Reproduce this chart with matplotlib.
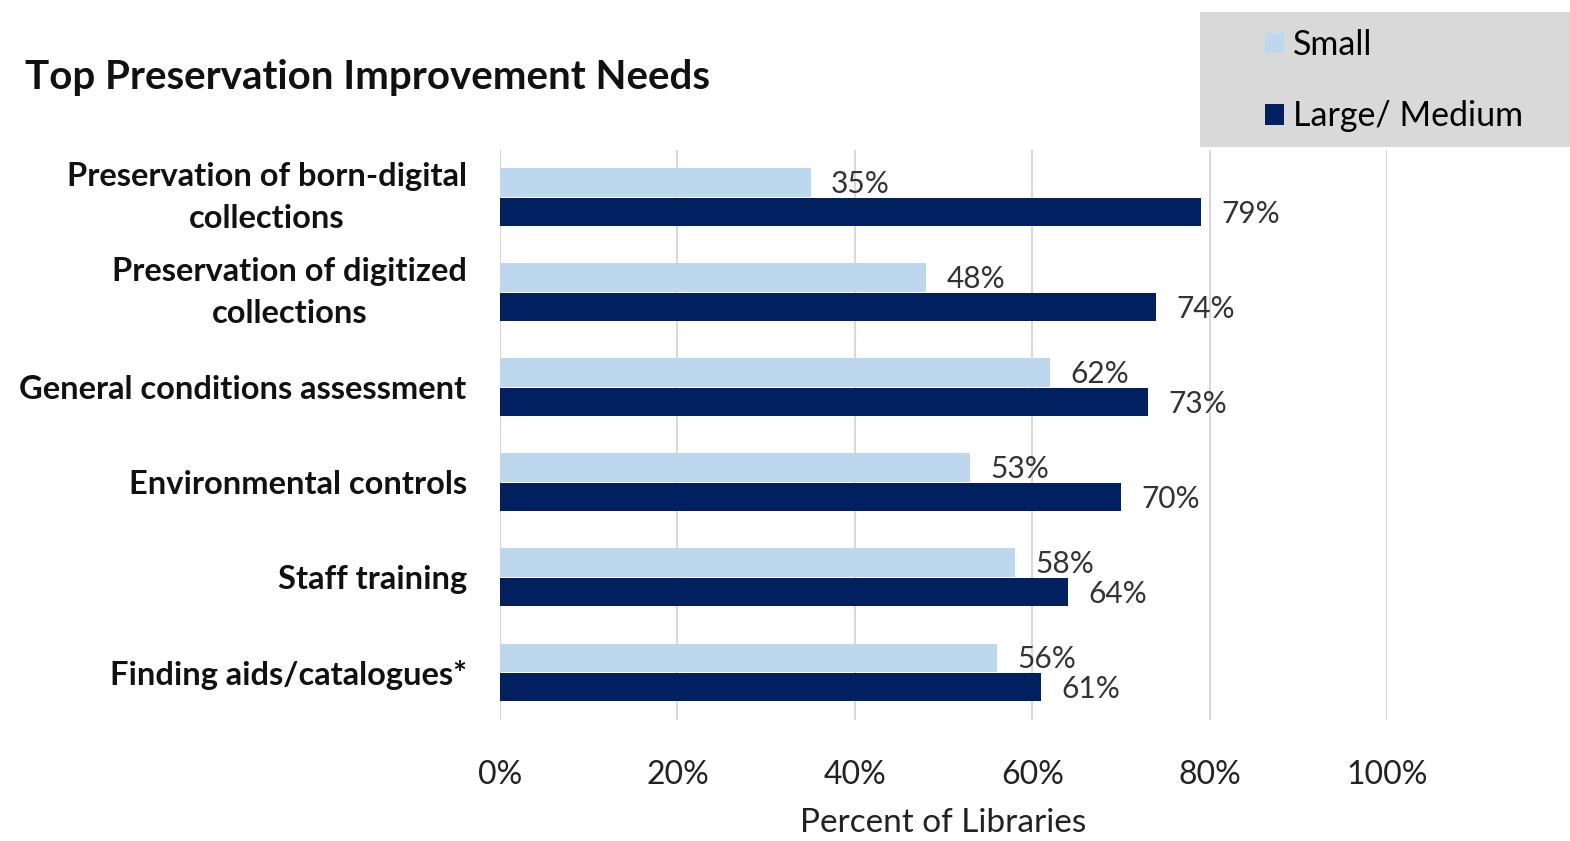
import matplotlib
matplotlib.use("Agg")
import matplotlib.pyplot as plt
from matplotlib.patches import Rectangle
import numpy as np

plt.rcParams['font.family'] = ['Lato', 'DejaVu Sans']

categories = ['Preservation of born-digital\ncollections',
              'Preservation of digitized\ncollections',
              'General conditions assessment',
              'Environmental controls',
              'Staff training',
              'Finding aids/catalogues*']
small = [0.35, 0.48, 0.62, 0.53, 0.58, 0.56]
large_medium = [0.79, 0.74, 0.73, 0.70, 0.64, 0.61]
xticks = [0, 0.2, 0.4, 0.6, 0.8, 1.0]
xtick_labels = ['0%', '20%', '40%', '60%', '80%', '100%']

light = '#bdd7ee'
dark = '#002060'

fig = plt.figure(figsize=(15.7, 8.41), dpi=100)
ax = fig.add_axes([0.3185, 0.1439, 0.5650, 0.6778])

y = np.arange(len(categories))
h = 0.30
b1 = ax.barh(y - 0.155, small, height=h, color=light, label='Small', zorder=3)
b2 = ax.barh(y + 0.155, large_medium, height=h, color=dark, label='Large/ Medium', zorder=3)

# data labels next to each bar
for i in range(len(categories)):
    ax.text(small[i] + 0.023, y[i] - 0.14, f'{small[i]*100:.0f}%', va='center', ha='left',
            fontsize=21.5, color='#333333')
    ax.text(large_medium[i] + 0.023, y[i] + 0.17, f'{large_medium[i]*100:.0f}%', va='center', ha='left',
            fontsize=21.5, color='#333333')

ax.set_xlim(0, 1.0)
ax.set_ylim(5.5, -0.5)
ax.set_xticks(xticks)
ax.set_xticklabels(xtick_labels, fontsize=23, color='#222222')
ax.set_yticks(y)
ax.set_yticklabels(categories, fontsize=23.5, fontweight='bold', color='#111111',
                   linespacing=1.55, multialignment='center')
# two-line labels centred on the group
for lbl in ax.get_yticklabels():
    if '\n' in lbl.get_text():
        lbl.set_va('center')
ax.tick_params(axis='both', length=0)
ax.tick_params(axis='x', pad=29)
ax.tick_params(axis='y', pad=24)
ax.xaxis.grid(True, color='#d9d9d9', linewidth=1.5, zorder=0)
for s in ax.spines.values():
    s.set_visible(False)

fig.text(943 / 1570, 1 - 823 / 841, 'Percent of Libraries', fontsize=24, color='#222222',
         ha='center', va='center')

fig.text(25 / 1570, 1 - 78 / 841, 'Top Preservation Improvement Needs', fontsize=29,
         fontweight='bold', va='center', ha='left', color='#111111')

# grey legend box in the top right corner
fig.patches.append(Rectangle((0.7643, 0.8252), 0.2357, 0.1605, transform=fig.transFigure,
                             facecolor='#d9d9d9', edgecolor='none', zorder=0))
fig.legend(handles=[b1, b2], loc='center left', bbox_to_anchor=(0.8057, 0.904), frameon=False,
           fontsize=24.5, handlelength=0.55, handleheight=0.55, handletextpad=0.27,
           labelspacing=1.15, borderpad=0, borderaxespad=0)

fig.savefig('out.png', dpi=100)
